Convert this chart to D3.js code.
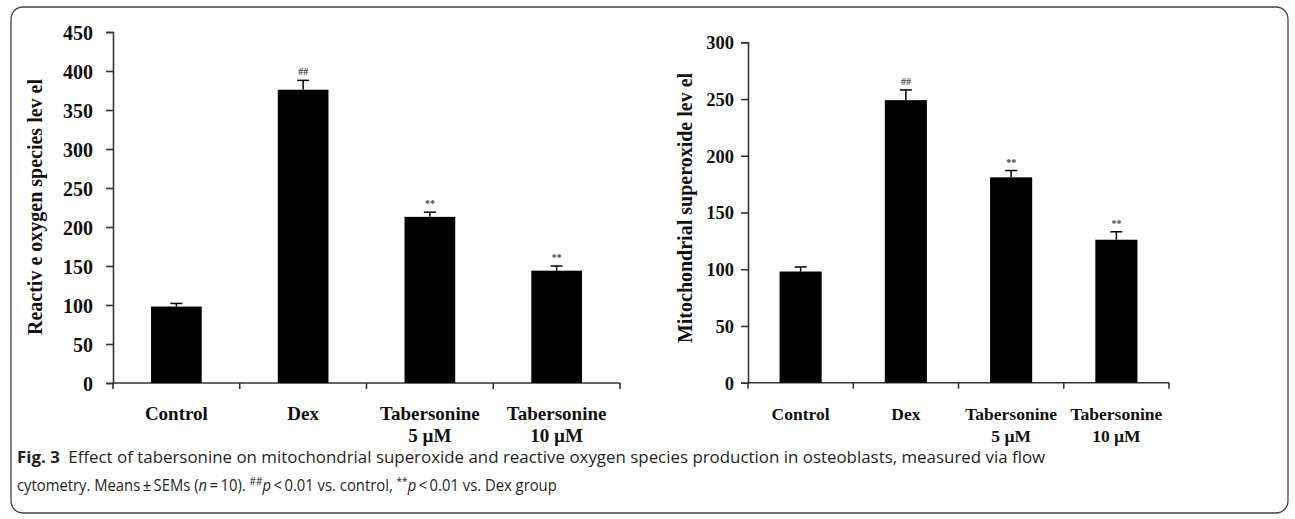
<!DOCTYPE html>
<html>
<head>
<meta charset="utf-8">
<script src="https://cdn.jsdelivr.net/npm/d3@7"></script>
<style>
  body { margin: 0; background: #fff; }
  svg text { font-family: "Liberation Serif", "Times New Roman", serif; }
  .caption text { font-family: "Open Sans", "Noto Sans", sans-serif; fill: #231f20; }
</style>
</head>
<body>
<svg id="vis" width="1295" height="519"></svg>
<script>
// data
const groups = ["Control", "Dex", "Tabersonine 5 µM", "Tabersonine 10 µM"];
const rosMeans = [98, 376, 213, 144];
const rosErrors = [4, 12, 6, 6];
const rosMarks = ["", "##", "**", "**"];
const ros_ticks = [0, 50, 100, 150, 200, 250, 300, 350, 400, 450];

const moxMeans = [98, 249, 181, 126];
const moxErrors = [4, 9, 6, 7];
const moxMarks = ["", "##", "**", "**"];
const mox_ticks = [0, 50, 100, 150, 200, 250, 300];

const svg = d3.select("svg#vis");

// frame round the whole figure
svg.append("rect")
  .attr("x", 11).attr("y", 7)
  .attr("width", 1277).attr("height", 506)
  .attr("rx", 12)
  .attr("fill", "none")
  .attr("stroke", "#444")
  .attr("stroke-width", 1.3);

drawChart({
  left: 113, right: 620, top: 32, bottom: 383,
  max: 450, ticks: ros_ticks,
  means: rosMeans, errors: rosErrors, marks: rosMarks,
  title: "Reactiv e oxygen species lev el", titleX: 35, titleY: 207,
  tickSize: 20, tickPad: 20, catSize: 19
});

drawChart({
  left: 748, right: 1169, top: 42.3, bottom: 382.7,
  max: 300, ticks: mox_ticks,
  means: moxMeans, errors: moxErrors, marks: moxMarks,
  title: "Mitochondrial superoxide lev el", titleX: 685, titleY: 208,
  tickSize: 18.5, tickPad: 14, catSize: 17.5
});

function drawChart(c) {
  const g = svg.append("g");

  const x = d3.scaleBand()
    .domain(groups)
    .range([c.left, c.right])
    .paddingInner(0.6)
    .paddingOuter(0.3);

  const y = d3.scaleLinear()
    .domain([0, c.max])
    .range([c.bottom, c.top]);

  // y axis
  const yAxis = d3.axisLeft(y)
    .tickValues(c.ticks)
    .tickSize(7)
    .tickPadding(c.tickPad - 7)
    .tickFormat(d3.format("d"));

  const ya = g.append("g")
    .attr("transform", "translate(" + c.left + ",0)")
    .call(yAxis);
  ya.select(".domain").attr("stroke", "#333").attr("stroke-width", 1.6);
  ya.selectAll(".tick line").attr("stroke", "#333").attr("stroke-width", 1.6);
  ya.selectAll(".tick text")
    .attr("fill", "#111")
    .style("font-size", c.tickSize + "px")
    .style("font-weight", "bold")
    .attr("dy", "0.35em");

  // x axis line, ticks at band edges
  g.append("line")
    .attr("x1", c.left).attr("x2", c.right)
    .attr("y1", c.bottom).attr("y2", c.bottom)
    .attr("stroke", "#333").attr("stroke-width", 1.6);

  const edges = d3.range(groups.length + 1).map(i => c.left + i * x.step());
  g.selectAll("line.xtick")
    .data(edges)
    .enter()
    .append("line")
    .attr("class", "xtick")
    .attr("x1", d => d).attr("x2", d => d)
    .attr("y1", c.bottom).attr("y2", c.bottom + 6)
    .attr("stroke", "#333").attr("stroke-width", 1.6);

  // category labels (split into two lines where needed)
  const labels = g.selectAll("text.cat")
    .data(groups)
    .enter()
    .append("text")
    .attr("class", "cat")
    .attr("x", d => x(d) + x.bandwidth() / 2)
    .attr("y", 420)
    .attr("text-anchor", "middle")
    .attr("fill", "#111")
    .style("font-size", c.catSize + "px")
    .style("font-weight", "bold");

  labels.each(function(d) {
    const parts = d.startsWith("Tabersonine") ? ["Tabersonine", d.replace("Tabersonine ", "")] : [d];
    const t = d3.select(this);
    parts.forEach(function(p, i) {
      t.append("tspan")
        .attr("x", x(d) + x.bandwidth() / 2)
        .attr("dy", i == 0 ? 0 : 22)
        .text(p);
    });
  });

  // bars
  const data = groups.map((d, i) => ({ name: d, mean: c.means[i], err: c.errors[i], mark: c.marks[i] }));

  g.selectAll("rect.bar")
    .data(data)
    .enter()
    .append("rect")
    .attr("class", "bar")
    .attr("x", d => x(d.name))
    .attr("y", d => y(d.mean))
    .attr("width", x.bandwidth())
    .attr("height", d => y(0) - y(d.mean))
    .attr("fill", "#000");

  // error bars (upper half only)
  const cx = d => x(d.name) + x.bandwidth() / 2;
  g.selectAll("line.err")
    .data(data)
    .enter()
    .append("line")
    .attr("class", "err")
    .attr("x1", cx).attr("x2", cx)
    .attr("y1", d => y(d.mean))
    .attr("y2", d => y(d.mean + d.err))
    .attr("stroke", "#000").attr("stroke-width", 1.5);

  g.selectAll("line.cap")
    .data(data)
    .enter()
    .append("line")
    .attr("class", "cap")
    .attr("x1", d => cx(d) - 6).attr("x2", d => cx(d) + 6)
    .attr("y1", d => y(d.mean + d.err))
    .attr("y2", d => y(d.mean + d.err))
    .attr("stroke", "#000").attr("stroke-width", 1.5);

  // significance marks
  g.selectAll("text.mark")
    .data(data.filter(d => d.mark))
    .enter()
    .append("text")
    .attr("class", "mark")
    .attr("x", cx)
    .attr("y", d => y(d.mean + d.err) - 5)
    .attr("text-anchor", "middle")
    .attr("fill", "#444")
    .style("font-size", "10px")
    .style("font-weight", "bold")
    .text(d => d.mark);

  // y title
  g.append("text")
    .attr("transform", "translate(" + c.titleX + "," + c.titleY + ") rotate(-90)")
    .attr("text-anchor", "middle")
    .attr("dy", "0.35em")
    .attr("fill", "#111")
    .style("font-size", "20px")
    .style("font-weight", "bold")
    .text(c.title);
}

// caption: two lines, squeezed horizontally to the width they have in the figure
const cap = svg.append("g").attr("class", "caption");

function fitLine(text, x, y, width) {
  const w = text.node().getComputedTextLength();
  text.attr("transform", "translate(" + x + "," + y + ") scale(" + (width / w) + ",1)");
}

const line1 = cap.append("text")
  .attr("x", 0).attr("y", 0)
  .style("font-size", "15.5px");
line1.append("tspan").style("font-weight", "bold").text("Fig. 3");
line1.append("tspan").text("\u2002Effect of tabersonine on mitochondrial superoxide and reactive oxygen species production in osteoblasts, measured via flow");
fitLine(line1, 17, 463, 1029);

const line2 = cap.append("text")
  .attr("x", 0).attr("y", 0)
  .style("font-size", "15.5px");
line2.append("tspan").text("cytometry. Means\u2009\u00b1\u2009SEMs (");
line2.append("tspan").style("font-style", "italic").text("n");
line2.append("tspan").text("\u2009=\u200910). ");
line2.append("tspan").attr("dy", -6).style("font-size", "10.5px").text("##");
line2.append("tspan").attr("dy", 6).style("font-style", "italic").text("p");
line2.append("tspan").text("\u2009<\u20090.01 vs. control, ");
line2.append("tspan").attr("dy", -6).style("font-size", "10.5px").text("**");
line2.append("tspan").attr("dy", 6).style("font-style", "italic").text("p");
line2.append("tspan").text("\u2009<\u20090.01 vs. Dex group");
fitLine(line2, 17, 491, 540);
</script>
</body>
</html>
